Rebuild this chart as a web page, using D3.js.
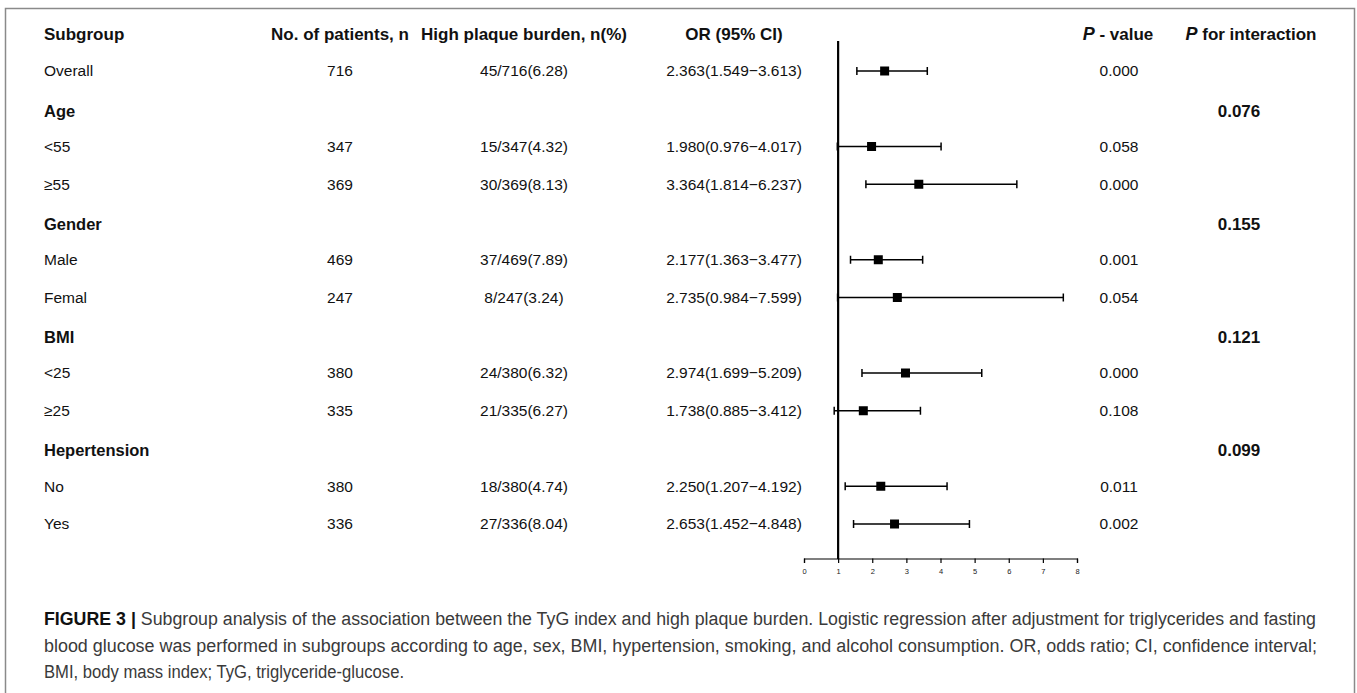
<!DOCTYPE html>
<html>
<head>
<meta charset="utf-8">
<script src="https://cdn.jsdelivr.net/npm/d3@7"></script>
<style>
  body { margin: 0; background: #fff; }
  svg { display: block; font-family: "Liberation Sans", Arial, sans-serif; }
</style>
</head>
<body>
<div class="mainDiv"></div>
<script>
// table rows
const subgroups = ["Overall", "Age", "<55", "\u226555", "Gender", "Male", "Femal", "BMI", "<25", "\u226525", "Hepertension", "No", "Yes"];
const isGroup = [false, true, false, false, true, false, false, true, false, false, true, false, false];
const patients = ["716", "", "347", "369", "", "469", "247", "", "380", "335", "", "380", "336"];
const plaque = ["45/716(6.28)", "", "15/347(4.32)", "30/369(8.13)", "", "37/469(7.89)", "8/247(3.24)", "", "24/380(6.32)", "21/335(6.27)", "", "18/380(4.74)", "27/336(8.04)"];
const orVals = [2.363, null, 1.980, 3.364, null, 2.177, 2.735, null, 2.974, 1.738, null, 2.250, 2.653];
const lowerCI = [1.549, null, 0.976, 1.814, null, 1.363, 0.984, null, 1.699, 0.885, null, 1.207, 1.452];
const upperCI = [3.613, null, 4.017, 6.237, null, 3.477, 7.599, null, 5.209, 3.412, null, 4.192, 4.848];
const pValues = ["0.000", "", "0.058", "0.000", "", "0.001", "0.054", "", "0.000", "0.108", "", "0.011", "0.002"];
const pInteraction = ["", "0.076", "", "", "0.155", "", "", "0.121", "", "", "0.099", "", ""];
const xTicks = [0, 1, 2, 3, 4, 5, 6, 7, 8];

const captionLines = [
  "Subgroup analysis of the association between the TyG index and high plaque burden. Logistic regression after adjustment for triglycerides and fasting",
  "blood glucose was performed in subgroups according to age, sex, BMI, hypertension, smoking, and alcohol consumption. OR, odds ratio; CI, confidence interval;",
  "BMI, body mass index; TyG, triglyceride-glucose."
];

const W = 1357, H = 693;
const svg = d3.select('.mainDiv').append('svg')
  .attr('width', W).attr('height', H);

// frame
svg.append('rect')
  .attr('x', 5.5).attr('y', 8.5)
  .attr('width', 1349).attr('height', 700)
  .attr('fill', 'none')
  .attr('stroke', '#8a8a8a')
  .attr('stroke-width', 1.5);

const x = d3.scaleLinear().domain([0, 8]).range([804, 1077]);
const y = d3.scaleLinear().domain([0, subgroups.length - 1]).range([71, 524]);

// column centres
const col = { sub: 44, n: 340, plaque: 524, or: 734, p: 1119, pint: 1239 };
const headY = 34;

// header
const header = svg.append('g').attr('font-weight', 'bold').attr('font-size', 17).attr('fill', '#111');
header.append('text').attr('x', col.sub).attr('y', headY).attr('dy', '0.35em').text('Subgroup');
header.append('text').attr('x', col.n).attr('y', headY).attr('dy', '0.35em').attr('text-anchor', 'middle').text('No. of patients, n');
header.append('text').attr('x', col.plaque).attr('y', headY).attr('dy', '0.35em').attr('text-anchor', 'middle').text('High plaque burden, n(%)');
header.append('text').attr('x', col.or).attr('y', headY).attr('dy', '0.35em').attr('text-anchor', 'middle').text('OR (95% CI)');
const pv = header.append('text').attr('x', 1118).attr('y', headY).attr('dy', '0.35em').attr('text-anchor', 'middle');
pv.append('tspan').attr('font-style', 'italic').attr('font-size', 18).text('P');
pv.append('tspan').text(' - value');
const pi = header.append('text').attr('x', 1251).attr('y', headY).attr('dy', '0.35em').attr('text-anchor', 'middle');
pi.append('tspan').attr('font-style', 'italic').attr('font-size', 18).text('P');
pi.append('tspan').text('  for interaction');

// rows
const rows = svg.selectAll('g.row')
  .data(subgroups)
  .join('g')
  .attr('class', 'row')
  .attr('transform', (d, i) => `translate(0, ${y(i) + (isGroup[i] ? 2 : 0)})`)
  .attr('fill', '#111');

const dataSize = 15.5;

rows.append('text')
  .attr('x', col.sub).attr('dy', '0.35em')
  .attr('font-size', (d, i) => isGroup[i] ? 16.5 : dataSize)
  .attr('font-weight', (d, i) => isGroup[i] ? 'bold' : 'normal')
  .text(d => d);

rows.append('text')
  .attr('x', col.n).attr('dy', '0.35em').attr('text-anchor', 'middle')
  .attr('font-size', dataSize)
  .text((d, i) => patients[i]);

rows.append('text')
  .attr('x', col.plaque).attr('dy', '0.35em').attr('text-anchor', 'middle')
  .attr('font-size', dataSize)
  .text((d, i) => plaque[i]);

rows.append('text')
  .attr('x', col.or).attr('dy', '0.35em').attr('text-anchor', 'middle')
  .attr('font-size', dataSize)
  .text((d, i) => orVals[i] == null ? '' :
    orVals[i].toFixed(3) + '(' + lowerCI[i].toFixed(3) + '\u2212' + upperCI[i].toFixed(3) + ')');

rows.append('text')
  .attr('x', col.p).attr('dy', '0.35em').attr('text-anchor', 'middle')
  .attr('font-size', dataSize)
  .text((d, i) => pValues[i]);

rows.append('text')
  .attr('x', col.pint).attr('dy', '0.35em').attr('text-anchor', 'middle')
  .attr('font-size', 17).attr('font-weight', 'bold')
  .text((d, i) => pInteraction[i]);

// forest marks
const est = rows.filter((d, i) => orVals[i] != null);
const idx = d => subgroups.indexOf(d);
est.append('line')
  .attr('x1', d => x(lowerCI[idx(d)]))
  .attr('x2', d => x(upperCI[idx(d)]))
  .attr('stroke', '#000').attr('stroke-width', 1.5);
est.append('line')
  .attr('x1', d => x(lowerCI[idx(d)])).attr('x2', d => x(lowerCI[idx(d)]))
  .attr('y1', -4).attr('y2', 4)
  .attr('stroke', '#000').attr('stroke-width', 1.5);
est.append('line')
  .attr('x1', d => x(upperCI[idx(d)])).attr('x2', d => x(upperCI[idx(d)]))
  .attr('y1', -4).attr('y2', 4)
  .attr('stroke', '#000').attr('stroke-width', 1.5);
est.append('rect')
  .attr('x', d => x(orVals[idx(d)]) - 4.5)
  .attr('y', -4.5)
  .attr('width', 9).attr('height', 9)
  .attr('fill', '#000');

// reference line at OR = 1
svg.append('line')
  .attr('x1', x(1)).attr('x2', x(1))
  .attr('y1', 41).attr('y2', 559)
  .attr('stroke', '#000').attr('stroke-width', 2.2);

// x axis
const axis = svg.append('g')
  .attr('transform', 'translate(0, 558.5)')
  .call(d3.axisBottom(x).tickValues(xTicks).tickSize(4.5).tickPadding(6).tickFormat(d3.format('d')));
axis.select('.domain').attr('stroke', '#000').attr('stroke-width', 1.2);
axis.selectAll('.tick line').attr('stroke', '#000').attr('stroke-width', 1.2);
axis.selectAll('.tick text').attr('font-size', 7.5).attr('fill', '#222')
  .attr('font-family', '"Liberation Sans", Arial, sans-serif');

// caption
const cap = svg.append('g')
  .attr('font-family', '"Liberation Sans Narrow", "Liberation Sans", Arial, sans-serif')
  .attr('font-size', 18).attr('fill', '#3a3a3a');
const l1 = cap.append('text').attr('x', 44).attr('y', 619).attr('dy', '0.35em')
  .attr('textLength', 1272).attr('lengthAdjust', 'spacingAndGlyphs');
l1.append('tspan').attr('font-weight', 'bold').attr('fill', '#111').text('FIGURE 3 | ');
l1.append('tspan').text(captionLines[0]);
cap.append('text').attr('x', 44).attr('y', 646).attr('dy', '0.35em')
  .attr('textLength', 1273).attr('lengthAdjust', 'spacingAndGlyphs')
  .text(captionLines[1]);
cap.append('text').attr('x', 44).attr('y', 672).attr('dy', '0.35em')
  .attr('textLength', 360).attr('lengthAdjust', 'spacingAndGlyphs')
  .text(captionLines[2]);
</script>
</body>
</html>
